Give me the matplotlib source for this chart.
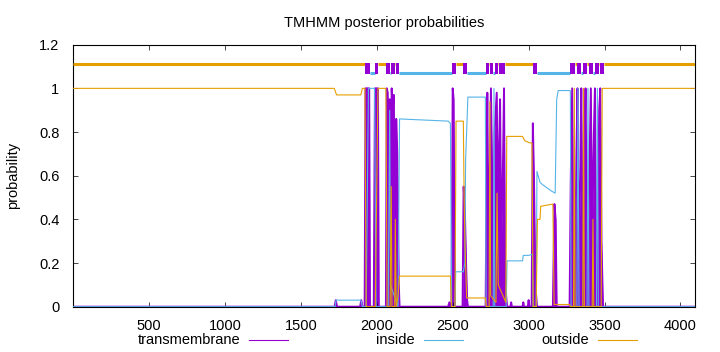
#!/usr/bin/python3

import numpy as np
import matplotlib
matplotlib.use("Agg")
import matplotlib.pyplot as plt
from matplotlib.lines import Line2D

plt.rcParams["font.family"] = ["Liberation Sans", "DejaVu Sans"]
plt.rcParams["font.size"] = 10.5

# posterior probabilities as (residue, probability) breakpoints
tm_pos = [1, 1722, 1730, 1738, 1890, 1898, 1905, 1920, 1926, 1950, 1955, 1980, 1988, 2008, 2013,
          2060, 2066, 2072, 2078, 2085, 2090, 2098, 2105, 2112, 2120, 2128, 2135, 2145, 2150,
          2470, 2478, 2485, 2492, 2500, 2506, 2515, 2565, 2572, 2580, 2588, 2595, 2600,
          2717, 2722, 2728, 2735, 2742, 2752, 2760, 2768, 2776, 2790, 2798, 2805, 2812, 2820,
          2830, 2838, 2845, 2852, 2858, 2880, 2885, 2890, 2960, 2965, 2970, 2995, 3000, 3005,
          3020, 3028, 3035, 3045, 3055, 3160, 3170, 3178, 3185,
          3270, 3278, 3287, 3295, 3305, 3315, 3322, 3330, 3340, 3347, 3355, 3368, 3375, 3385,
          3395, 3410, 3418, 3430, 3437, 3445, 3455, 3465, 3472, 3480, 3490, 4096]
tm_prob = [0.0, 0.0, 0.03, 0.0, 0.0, 0.03, 0.0, 0.0, 1.0, 1.0, 0.0, 0.0, 1.0, 1.0, 0.0,
           0.0, 1.0, 0.98, 0.3, 0.95, 0.2, 1.0, 0.9, 0.97, 0.3, 0.86, 0.7, 0.1, 0.0,
           0.0, 0.02, 0.0, 0.0, 1.0, 0.95, 0.0, 0.0, 0.55, 0.45, 0.2, 0.03, 0.0,
           0.0, 0.5, 0.98, 0.3, 0.5, 1.0, 0.6, 0.4, 0.8, 0.98, 0.4, 0.7, 0.95, 0.3,
           0.6, 1.0, 0.2, 0.05, 0.0, 0.0, 0.02, 0.0, 0.0, 0.02, 0.0, 0.0, 0.03, 0.0,
           0.0, 0.84, 0.6, 0.1, 0.0, 0.0, 0.47, 0.4, 0.0,
           0.0, 0.6, 1.0, 0.3, 0.1, 0.7, 1.0, 0.2, 0.6, 1.0, 0.3, 0.7, 1.0, 0.2,
           0.4, 1.0, 0.3, 0.8, 1.0, 0.2, 0.3, 0.9, 1.0, 0.3, 0.0, 0.0]

in_pos = [1, 1725, 1732, 1895, 1905, 1930, 1945, 1985, 1995, 2075, 2085, 2090, 2140, 2150,
          2470, 2485, 2493, 2515, 2520, 2570, 2580, 2585, 2600, 2715, 2720, 2767, 2772, 2777,
          2852, 2858, 2960, 2965, 3000, 3025, 3030, 3050, 3055, 3075, 3090, 3150, 3175, 3185,
          3195, 3275, 3280, 3318, 3325, 3332, 3385, 3391, 3397, 3447, 3453, 3459, 4096]
in_prob = [0.0, 0.0, 0.03, 0.03, 0.0, 0.0, 1.0, 1.0, 0.0, 0.0, 0.9, 0.1, 0.0, 0.86,
           0.85, 0.84, 0.0, 0.0, 0.16, 0.16, 0.2, 0.67, 0.96, 0.96, 0.0, 0.0, 1.0, 0.0,
           0.0, 0.21, 0.21, 0.235, 0.235, 0.24, 0.0, 0.0, 0.62, 0.57, 0.56, 0.53, 0.52, 0.95,
           0.99, 0.99, 0.0, 0.0, 1.0, 0.0, 0.0, 1.0, 0.0, 0.0, 1.0, 0.0, 0.0]

out_pos = [1, 1720, 1735, 1895, 1905, 1922, 1930, 1990, 2008, 2060, 2068, 2088, 2095, 2100,
           2118, 2122, 2128, 2140, 2150, 2485, 2492, 2515, 2522, 2570, 2575, 2580, 2592, 2715,
           2722, 2740, 2745, 2750, 2785, 2792, 2800, 2850, 2856, 2960, 2975, 3010, 3022, 3030,
           3050, 3058, 3075, 3080, 3160, 3168, 3270, 3275, 3296, 3301, 3306, 3357, 3362, 3367,
           3419, 3424, 3429, 3478, 3485, 4096]
out_prob = [1.0, 1.0, 0.97, 0.97, 1.0, 1.0, 0.0, 0.0, 1.0, 1.0, 0.0, 0.0, 0.55, 0.0,
            0.0, 0.4, 0.0, 0.05, 0.14, 0.14, 0.0, 0.0, 0.85, 0.85, 0.52, 0.31, 0.04, 0.04,
            0.0, 0.0, 0.94, 0.05, 0.02, 0.52, 0.1, 0.02, 0.78, 0.78, 0.76, 0.75, 0.75, 0.0,
            0.0, 0.40, 0.40, 0.46, 0.47, 0.01, 0.01, 0.0, 0.0, 1.0, 0.0, 0.0, 1.0, 0.0,
            0.0, 0.4, 0.0, 0.0, 1.0, 1.0]

# predicted topology (start, end)
topo_tm = [(1923, 1953), (1986, 2011), (2063, 2085), (2096, 2118), (2125, 2147), (2493, 2519),
           (2569, 2592), (2719, 2739), (2745, 2767), (2779, 2801), (2807, 2845), (3028, 3054),
           (3274, 3308), (3319, 3346), (3360, 3386), (3397, 3424), (3436, 3465), (3472, 3494)]
topo_in = [(1953, 1986), (2085, 2096), (2147, 2493), (2592, 2719), (2767, 2779), (3054, 3274),
           (3346, 3360), (3424, 3436)]
topo_out = [(1, 1923), (2011, 2063), (2118, 2125), (2519, 2569), (2739, 2745), (2801, 2807),
            (2845, 3028), (3308, 3319), (3386, 3397), (3465, 3472), (3494, 4096)]

labels = ["transmembrane", "inside", "outside"]

c_tm = "#9400d3"
c_in = "#56b4e9"
c_out = "#e69f00"
colors = [c_tm, c_in, c_out]

W, H = 720, 352
fig = plt.figure(figsize=(W / 100, H / 100), dpi=100)
ax = fig.add_axes([73.3 / W, 1 - 306.7 / H, 621.7 / W, 262.0 / H])

ax.fill_between(tm_pos, 0, tm_prob, color=c_tm, lw=0, zorder=1)
ax.plot(tm_pos, tm_prob, color=c_tm, lw=1.4, zorder=2)
ax.plot(in_pos, in_prob, color=c_in, lw=0.8, zorder=3)
ax.plot(out_pos, out_prob, color=c_out, lw=0.8, zorder=4)

# topology strip on top
s, e = zip(*topo_out)
ax.hlines(np.full(len(s), 1.112), s, e, color=c_out, lw=2.2, zorder=5)
s, e = zip(*topo_in)
ax.hlines(np.full(len(s), 1.072), s, e, color=c_in, lw=2.2, zorder=5)
s, e = zip(*topo_tm)
ax.bar(x=s, height=0.05, width=np.array(e) - np.array(s), bottom=1.068, align="edge",
       color=c_tm, lw=0, zorder=6)

ax.set_xlim(1, 4096)
ax.set_ylim(0, 1.2)
ax.set_xticks([500, 1000, 1500, 2000, 2500, 3000, 3500, 4000])
ax.set_yticks([0, 0.2, 0.4, 0.6, 0.8, 1.0, 1.2])
ax.set_yticklabels(["0", "0.2", "0.4", "0.6", "0.8", "1", "1.2"])
ax.tick_params(direction="in", length=3.5, width=0.5, top=True, right=True)
ax.tick_params(axis="y", pad=10)
ax.tick_params(axis="x", pad=9)
for sp in ax.spines.values():
    sp.set_linewidth(0.8)

ax.set_title("TMHMM posterior probabilities", fontsize=10.5, pad=13)
ax.set_ylabel("probability")
ax.yaxis.set_label_coords(-0.086, 0.5)

# gnuplot style key below the plot: right-justified text, then sample line
key_y = 1 - 340 / H
for i, (lab, col) in enumerate(zip(labels, colors)):
    x_end = 288 + 174.5 * i
    fig.text((x_end - 48) / W, key_y, lab, ha="right", va="center", fontsize=10.5)
    fig.add_artist(Line2D([(x_end - 39) / W, x_end / W], [key_y, key_y],
                          color=col, lw=0.8, transform=fig.transFigure))

fig.savefig("out.png", dpi=100)
